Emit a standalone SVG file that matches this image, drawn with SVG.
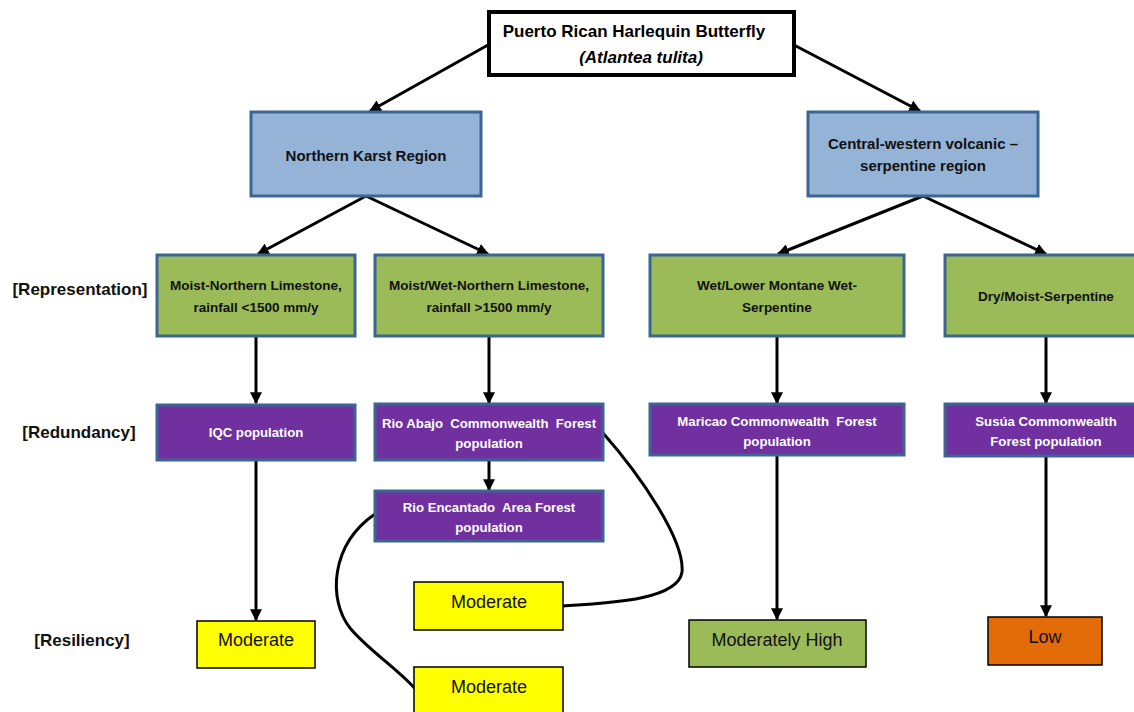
<svg xmlns="http://www.w3.org/2000/svg" width="1134" height="712" viewBox="0 0 1134 712">
<style>
text{font-family:"Liberation Sans",Arial,sans-serif;text-anchor:middle;white-space:pre;}
.title{font-size:17px;font-weight:bold;fill:#000;}
.reg{fill:#95b3d7;stroke:#3d6592;stroke-width:3;}
.rep{fill:#9bbb59;stroke:#3d6592;stroke-width:3;}
.red{fill:#7030a0;stroke:#3d6592;stroke-width:3;}
.res{stroke:#000;stroke-width:1.5;}
.t13{font-size:13.5px;font-weight:bold;fill:#111;}
.w13{font-size:13.2px;font-weight:bold;fill:#fff;}
.t14{font-size:15px;font-weight:bold;fill:#111;}
.lab{font-size:17px;font-weight:bold;fill:#111;}
.rt{font-size:18px;fill:#111;}
.c{fill:none;stroke:#000;stroke-width:3;}
</style>
<defs>
<marker id="ah" viewBox="0 0 10 10" refX="9" refY="5" markerWidth="4" markerHeight="4" orient="auto" markerUnits="strokeWidth">
<path d="M0,0 L10,5 L0,10 z" fill="#000"/>
</marker>
</defs>
<g id="connectors">
<line class="c" x1="488" y1="45" x2="370" y2="111" marker-end="url(#ah)"/>
<line class="c" x1="794" y1="45" x2="920" y2="111" marker-end="url(#ah)"/>
<line class="c" x1="366" y1="196" x2="258" y2="254" marker-end="url(#ah)"/>
<line class="c" x1="366" y1="196" x2="488" y2="254" marker-end="url(#ah)"/>
<line class="c" x1="923" y1="196" x2="778" y2="254" marker-end="url(#ah)"/>
<line class="c" x1="923" y1="196" x2="1046" y2="254" marker-end="url(#ah)"/>
<line class="c" x1="256" y1="336" x2="256" y2="403" marker-end="url(#ah)"/>
<line class="c" x1="489" y1="336" x2="489" y2="403" marker-end="url(#ah)"/>
<line class="c" x1="777" y1="336" x2="777" y2="403" marker-end="url(#ah)"/>
<line class="c" x1="1046" y1="336" x2="1046" y2="403" marker-end="url(#ah)"/>
<line class="c" x1="489" y1="460" x2="489" y2="490" marker-end="url(#ah)"/>
<line class="c" x1="256" y1="460" x2="256" y2="620" marker-end="url(#ah)"/>
<line class="c" x1="777" y1="455" x2="777" y2="619" marker-end="url(#ah)"/>
<line class="c" x1="1046" y1="456" x2="1046" y2="616" marker-end="url(#ah)"/>
<path class="c" d="M603,433 C640,475 685,540 682,572 C678,600 610,603 563,606"/>
<path class="c" d="M375,514 C330,545 328,600 350,628 C370,652 400,670 418,692"/>
</g>
<g id="title">
<rect x="489" y="12" width="305" height="63" fill="#fff" stroke="#000" stroke-width="4"/>
<text class="title" x="634" y="37">Puerto Rican Harlequin Butterfly</text>
<text class="title" x="641" y="63" font-style="italic">(Atlantea tulita)</text>
</g>
<g id="northern-karst">
<rect class="reg" x="251" y="112" width="230" height="84"/>
<text class="t14" x="366" y="161">Northern Karst Region</text>
</g>
<g id="central-western">
<rect class="reg" x="808" y="112" width="230" height="84"/>
<text class="t14" x="923" y="149">Central-western volcanic –</text>
<text class="t14" x="923" y="171">serpentine region</text>
</g>
<g id="label-representation"><text class="lab" x="80" y="295">[Representation]</text></g>
<g id="label-redundancy"><text class="lab" x="79" y="438">[Redundancy]</text></g>
<g id="label-resiliency"><text class="lab" x="82" y="646">[Resiliency]</text></g>
<g id="rep1">
<rect class="rep" x="157" y="255" width="198" height="81"/>
<text class="t13" x="256" y="290">Moist-Northern Limestone,</text>
<text class="t13" x="256" y="312">rainfall &lt;1500 mm/y</text>
</g>
<g id="rep2">
<rect class="rep" x="375" y="255" width="228" height="81"/>
<text class="t13" x="489" y="290">Moist/Wet-Northern Limestone,</text>
<text class="t13" x="489" y="312">rainfall &gt;1500 mm/y</text>
</g>
<g id="rep3">
<rect class="rep" x="650" y="255" width="254" height="81"/>
<text class="t13" x="777" y="290">Wet/Lower Montane Wet-</text>
<text class="t13" x="777" y="312">Serpentine</text>
</g>
<g id="rep4">
<rect class="rep" x="945" y="255" width="202" height="81"/>
<text class="t13" x="1046" y="301">Dry/Moist-Serpentine</text>
</g>
<g id="red1">
<rect class="red" x="157" y="405" width="198" height="55"/>
<text class="w13" x="256" y="437">IQC population</text>
</g>
<g id="red2">
<rect class="red" x="375" y="404" width="228" height="56"/>
<text class="w13" x="489" y="428">Rio Abajo  Commonwealth  Forest</text>
<text class="w13" x="489" y="448">population</text>
</g>
<g id="red3">
<rect class="red" x="375" y="491" width="228" height="50"/>
<text class="w13" x="489" y="512">Rio Encantado  Area Forest</text>
<text class="w13" x="489" y="532">population</text>
</g>
<g id="red4">
<rect class="red" x="650" y="404" width="254" height="51"/>
<text class="w13" x="777" y="426">Maricao Commonwealth  Forest</text>
<text class="w13" x="777" y="446">population</text>
</g>
<g id="red5">
<rect class="red" x="945" y="404" width="202" height="52"/>
<text class="w13" x="1046" y="426">Susúa Commonwealth</text>
<text class="w13" x="1046" y="446">Forest population</text>
</g>
<g id="res1">
<rect class="res" x="197" y="621" width="118" height="47" fill="#ffff00"/>
<text class="rt" x="256" y="646">Moderate</text>
</g>
<g id="res2">
<rect class="res" x="414" y="582" width="149" height="48" fill="#ffff00"/>
<text class="rt" x="489" y="608">Moderate</text>
</g>
<g id="res3">
<rect class="res" x="414" y="667" width="149" height="50" fill="#ffff00"/>
<text class="rt" x="489" y="693">Moderate</text>
</g>
<g id="res4">
<rect class="res" x="689" y="620" width="177" height="47" fill="#9bbb59"/>
<text class="rt" x="777" y="646">Moderately High</text>
</g>
<g id="res5">
<rect class="res" x="988" y="617" width="114" height="48" fill="#e36c09"/>
<text class="rt" x="1045" y="643">Low</text>
</g>
</svg>
